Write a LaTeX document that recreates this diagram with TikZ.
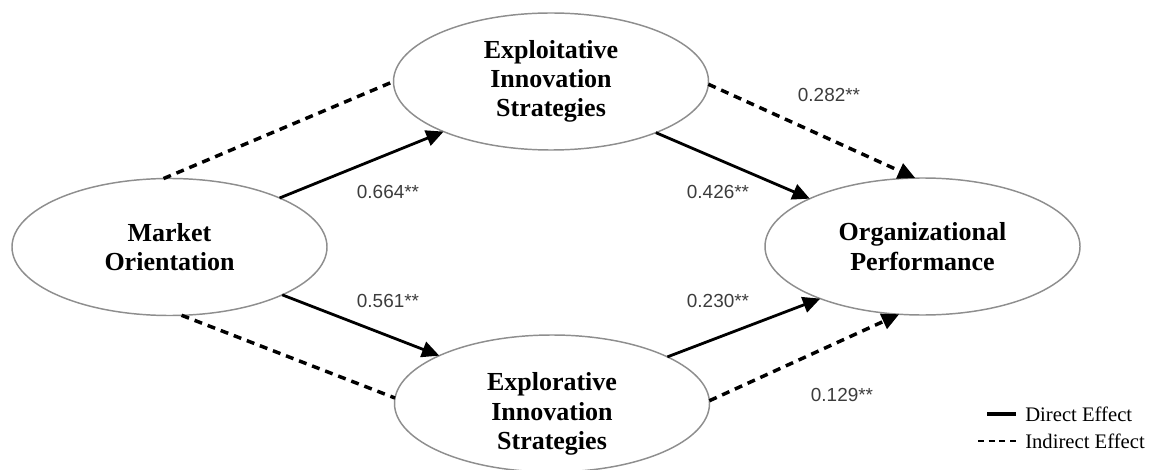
\documentclass[tikz,border=0pt]{standalone}
\usepackage{fontspec}
\setmainfont{Liberation Serif}
\newfontfamily\labfont{Liberation Sans}
\usetikzlibrary{arrows.meta,shapes.geometric}
\definecolor{ellgray}{HTML}{8E8E8E}
\definecolor{labgray}{HTML}{3C3C3C}
\begin{document}
\begin{tikzpicture}[x=0.75pt,y=-0.75pt,
  construct/.style={ellipse,draw=ellgray,line width=1.1pt,minimum width=236.25pt,minimum height=102.75pt,inner sep=0pt,outer sep=0pt},
  ctext/.style={font=\fontsize{19.5}{22}\selectfont\bfseries,align=center,inner sep=0pt},
  coef/.style={font=\labfont\fontsize{14.2}{16}\selectfont,text=labgray,inner sep=0pt},
  direct/.style={line width=2.1pt,-{Triangle[length=13pt,width=12pt]}},
  indirect/.style={line width=2.6pt,dash pattern=on 6pt off 4.5pt},
  indarrow/.style={indirect,-{Triangle[length=13pt,width=12pt]}},
  legtext/.style={font=\fontsize{15.5}{18}\selectfont,anchor=west,inner sep=0pt}]
\useasboundingbox (0,0) rectangle (1155,470);

\node[construct,ctext] (mo) at (169.5,247) {Market\\Orientation};
\node[construct,ctext] (ex) at (551,81.5) {Exploitative\\Innovation\\Strategies};
\node[construct] (er) at (552,403.5) {};
\node[ctext] (ertext) at (552,414) {Explorative\\Innovation\\Strategies};
\node[construct,ctext] (op) at (922.5,246.5) {Organizational\\Performance};

\draw[indirect] (mo.95) -- (ex.180);
\draw[direct] (mo.24) -- (ex.205);
\draw[direct] (mo.-23) -- (er.157);
\draw[indirect] (mo.-80) -- (er.178);
\draw[direct] (ex.-26) -- (op.157);
\draw[indarrow] (ex.-1) -- (op.96);
\draw[direct] (er.22) -- (op.207);
\draw[indarrow] (er.1) -- (op.251);

\node[coef] (l1) at (388,192) {0.664**};
\node[coef] (l2) at (388,301) {0.561**};
\node[coef] (l3) at (718,192) {0.426**};
\node[coef] (l4) at (718,301) {0.230**};
\node[coef] (l5) at (829,95) {0.282**};
\node[coef] (l6) at (842,395) {0.129**};

\coordinate (ds) at (987,414);
\coordinate (de) at (1016,414);
\draw[line width=3pt] (ds) -- (de);
\coordinate (is) at (978,441);
\coordinate (ie) at (1016,441);
\draw[line width=2pt,dash pattern=on 4.5pt off 3.5pt] (is) -- (ie);
\node[legtext] (dl) at (1025,414) {Direct Effect};
\node[legtext] (il) at (1025,441) {Indirect Effect};
\end{tikzpicture}
\end{document}
